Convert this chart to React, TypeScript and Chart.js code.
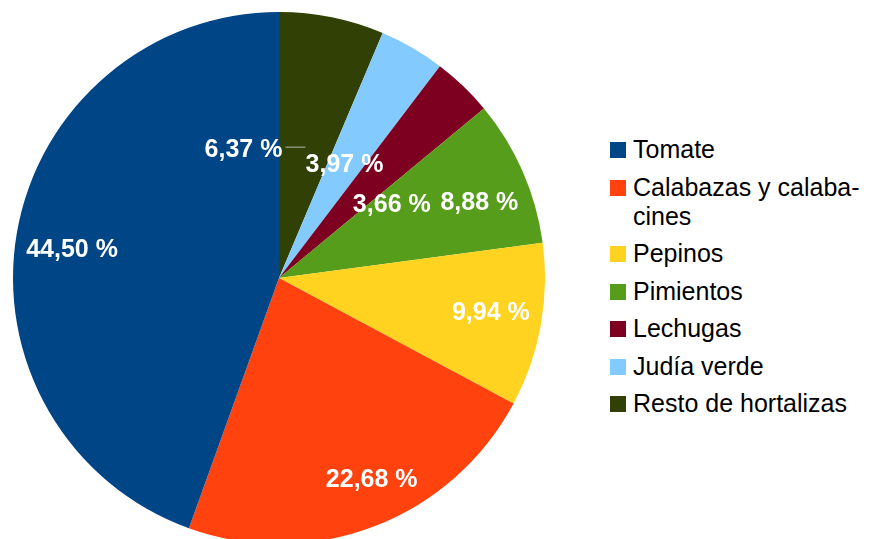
import React, { useEffect, useRef } from "react";
import { Chart, registerables } from "chart.js";

Chart.register(...registerables);

// Data in legend order
const categories = [
  "Tomate",
  "Calabazas y calaba\u00ADcines",
  "Pepinos",
  "Pimientos",
  "Lechugas",
  "Judía verde",
  "Resto de hortalizas",
];
const values = [44.5, 22.68, 9.94, 8.88, 3.66, 3.97, 6.37];
const colors = ["#004586", "#ff420e", "#ffd320", "#579d1c", "#7e0021", "#83caff", "#314004"];

// Label placement per category (legend order): radial fraction, angle shift in degrees, leader flag
const labelFraction = [0.786, 0.83, 0.806, 0.807, 0.509, 0.497, 0.5];
const labelShift = [-1.7, -3.8, -1.4, 2.6, 12.6, -0.4, 0];
const labelLeader = [false, false, false, false, false, false, true];

const fmt = (v: number) => v.toFixed(2).replace(".", ",") + " %";

export default function App() {
  const ref = useRef<HTMLCanvasElement | null>(null);

  useEffect(() => {
    if (!ref.current) return;
    // pie is drawn clockwise from the top, starting with the last category
    const order = categories.map((_, i) => i).reverse();

    const labelPlugin = {
      id: "pctLabels",
      afterDatasetsDraw(chart: any) {
        const ctx = chart.ctx;
        const meta = chart.getDatasetMeta(0);
        ctx.save();
        ctx.font = 'bold 25px "Liberation Sans", Arial, sans-serif';
        ctx.fillStyle = "#ffffff";
        ctx.textBaseline = "alphabetic";
        meta.data.forEach((arc: any, j: number) => {
          const i = order[j];
          const p = arc.getProps(["x", "y", "startAngle", "endAngle", "outerRadius"], true);
          const mid = (p.startAngle + p.endAngle) / 2 + (labelShift[i] * Math.PI) / 180;
          const r = p.outerRadius * labelFraction[i];
          const cx = p.x + Math.cos(mid) * r;
          const cy = p.y + Math.sin(mid) * r;
          const text = fmt(values[i]);
          if (labelLeader[i]) {
            ctx.strokeStyle = "#b4b4b4";
            ctx.lineWidth = 1;
            ctx.beginPath();
            ctx.moveTo(cx, cy - 0.5);
            ctx.lineTo(cx - 20, cy - 0.5);
            ctx.stroke();
            ctx.textAlign = "right";
            ctx.fillText(text, cx - 23, cy + 9);
          } else {
            ctx.textAlign = "center";
            ctx.fillText(text, cx, cy + 9);
          }
        });
        ctx.restore();
      },
    };

    const chart = new Chart(ref.current, {
      type: "pie",
      data: {
        labels: order.map((i) => categories[i]),
        datasets: [
          {
            data: order.map((i) => values[i]),
            backgroundColor: order.map((i) => colors[i]),
            borderWidth: 0,
          },
        ],
      },
      options: {
        responsive: false,
        animation: false,
        layout: { padding: 0 },
        plugins: {
          legend: { display: false },
          tooltip: { enabled: false },
        },
      },
      plugins: [labelPlugin],
    });
    return () => chart.destroy();
  }, []);

  return (
    <div
      style={{
        position: "fixed",
        left: 0,
        top: 0,
        width: 873,
        height: 539,
        overflow: "hidden",
        background: "#ffffff",
      }}
    >
      <div style={{ position: "absolute", left: 13, top: 12, width: 532, height: 532 }}>
        <canvas ref={ref} width={532} height={532} style={{ width: 532, height: 532, display: "block" }} />
      </div>
      <div
        style={{
          position: "absolute",
          left: 610,
          top: 135,
          width: 263,
          fontFamily: '"Liberation Sans", Arial, sans-serif',
          fontSize: 25,
          lineHeight: "29px",
          color: "#000000",
        }}
      >
        {categories.map((c, i) => (
          <div key={c} style={{ display: "flex", alignItems: "flex-start", marginBottom: 8.5 }}>
            <span
              style={{
                flex: "0 0 16px",
                width: 16,
                height: 16,
                marginTop: 7,
                marginRight: 7,
                background: colors[i],
              }}
            />
            <span style={{ flex: "1 1 auto", hyphens: "manual" as any }}>{c}</span>
          </div>
        ))}
      </div>
    </div>
  );
}
